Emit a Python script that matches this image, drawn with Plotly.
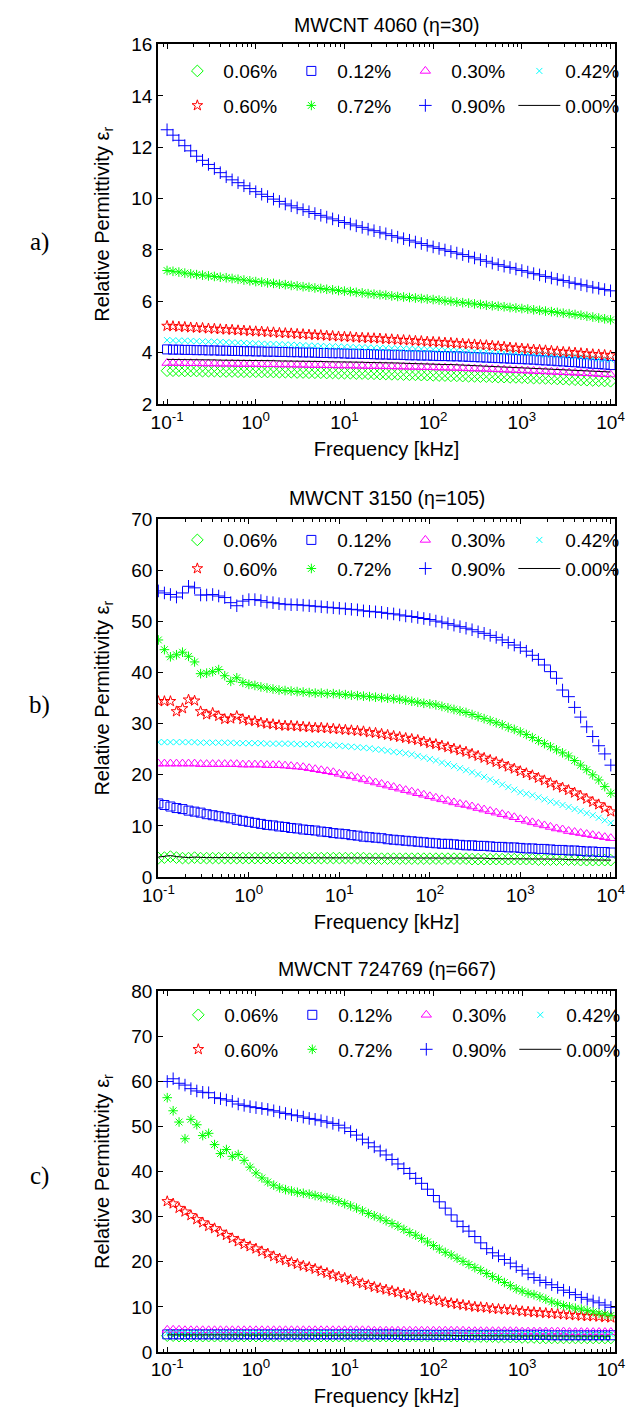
import plotly.graph_objects as go

# ---------------- data ----------------
freq_khz = [
    0.1, 0.1166, 0.1359, 0.1585, 0.1848, 0.2154, 0.2512, 0.2929, 0.3415, 0.3981, 0.4642, 0.5412, 0.631, 0.7356, 0.8577,
    1, 1.166, 1.359, 1.585, 1.848, 2.154, 2.512, 2.929, 3.415, 3.981, 4.642, 5.412, 6.31, 7.356, 8.577,
    10, 11.66, 13.59, 15.85, 18.48, 21.54, 25.12, 29.29, 34.15, 39.81, 46.42, 54.12, 63.1, 73.56, 85.77,
    100, 116.6, 135.9, 158.5, 184.8, 215.4, 251.2, 292.9, 341.5, 398.1, 464.2, 541.2, 631, 735.6, 857.7,
    1000, 1166, 1359, 1585, 1848, 2154, 2512, 2929, 3415, 3981, 4642, 5412, 6310, 7356, 8577, 10000,
]

series_labels = ["0.06%", "0.12%", "0.30%", "0.42%", "0.60%", "0.72%", "0.90%", "0.00%"]

# ---- panel a : MWCNT 4060 ----
a_006 = [3.30, 3.30, 3.30, 3.29, 3.29, 3.29, 3.28, 3.28, 3.28, 3.27, 3.27, 3.27, 3.26, 3.26, 3.26,
         3.26, 3.25, 3.25, 3.25, 3.24, 3.24, 3.24, 3.23, 3.23, 3.22, 3.22, 3.22, 3.21, 3.21, 3.20,
         3.20, 3.20, 3.19, 3.19, 3.18, 3.18, 3.17, 3.17, 3.16, 3.16, 3.15, 3.14, 3.14, 3.13, 3.13,
         3.12, 3.11, 3.11, 3.10, 3.10, 3.09, 3.08, 3.08, 3.07, 3.07, 3.06, 3.05, 3.05, 3.04, 3.04,
         3.03, 3.02, 3.01, 3.01, 3.00, 2.99, 2.98, 2.97, 2.96, 2.95, 2.94, 2.93, 2.92, 2.91, 2.90, 2.89]
a_012 = [4.13, 4.12, 4.12, 4.11, 4.11, 4.10, 4.10, 4.09, 4.09, 4.08, 4.08, 4.07, 4.07, 4.06, 4.06,
         4.05, 4.05, 4.04, 4.04, 4.03, 4.03, 4.02, 4.02, 4.01, 4.01, 4.00, 3.99, 3.99, 3.98, 3.98,
         3.97, 3.96, 3.96, 3.95, 3.95, 3.94, 3.93, 3.93, 3.92, 3.92, 3.91, 3.90, 3.90, 3.89, 3.89,
         3.88, 3.87, 3.87, 3.86, 3.86, 3.85, 3.84, 3.83, 3.82, 3.81, 3.80, 3.79, 3.78, 3.77, 3.76,
         3.75, 3.74, 3.73, 3.71, 3.70, 3.69, 3.67, 3.66, 3.64, 3.63, 3.61, 3.59, 3.57, 3.56, 3.54, 3.52]
a_030 = [3.60, 3.60, 3.60, 3.59, 3.59, 3.59, 3.58, 3.58, 3.58, 3.57, 3.57, 3.57, 3.56, 3.56, 3.56,
         3.56, 3.55, 3.55, 3.55, 3.54, 3.54, 3.54, 3.53, 3.53, 3.52, 3.52, 3.52, 3.51, 3.51, 3.50,
         3.50, 3.50, 3.49, 3.49, 3.48, 3.48, 3.48, 3.47, 3.47, 3.46, 3.46, 3.45, 3.45, 3.44, 3.44,
         3.43, 3.42, 3.42, 3.41, 3.41, 3.40, 3.39, 3.38, 3.38, 3.37, 3.36, 3.35, 3.34, 3.33, 3.32,
         3.31, 3.30, 3.29, 3.28, 3.27, 3.26, 3.25, 3.24, 3.23, 3.22, 3.21, 3.20, 3.19, 3.17, 3.16, 3.15]
a_042 = [4.49, 4.48, 4.47, 4.47, 4.46, 4.45, 4.44, 4.43, 4.43, 4.42, 4.41, 4.40, 4.39, 4.38, 4.37,
         4.36, 4.35, 4.34, 4.34, 4.33, 4.32, 4.31, 4.30, 4.29, 4.28, 4.27, 4.26, 4.25, 4.25, 4.24,
         4.23, 4.22, 4.21, 4.21, 4.20, 4.19, 4.18, 4.18, 4.17, 4.17, 4.16, 4.15, 4.14, 4.14, 4.13,
         4.12, 4.11, 4.10, 4.10, 4.09, 4.08, 4.07, 4.06, 4.06, 4.05, 4.04, 4.03, 4.02, 4.01, 4.00,
         3.99, 3.98, 3.96, 3.95, 3.93, 3.92, 3.90, 3.89, 3.87, 3.86, 3.84, 3.82, 3.80, 3.77, 3.75, 3.73]
a_060 = [5.04, 5.03, 5.01, 5.00, 4.98, 4.97, 4.96, 4.94, 4.93, 4.91, 4.90, 4.89, 4.87, 4.86, 4.84,
         4.83, 4.82, 4.80, 4.79, 4.77, 4.76, 4.75, 4.73, 4.72, 4.70, 4.69, 4.68, 4.66, 4.65, 4.63,
         4.62, 4.61, 4.59, 4.58, 4.57, 4.56, 4.55, 4.53, 4.52, 4.50, 4.49, 4.48, 4.46, 4.45, 4.43,
         4.42, 4.41, 4.39, 4.38, 4.36, 4.35, 4.33, 4.32, 4.30, 4.29, 4.27, 4.25, 4.23, 4.20, 4.18,
         4.16, 4.14, 4.12, 4.11, 4.09, 4.07, 4.05, 4.03, 4.02, 4.00, 3.98, 3.96, 3.94, 3.93, 3.91, 3.89]
a_072 = [7.20, 7.17, 7.14, 7.10, 7.07, 7.04, 7.02, 6.99, 6.97, 6.94, 6.92, 6.89, 6.86, 6.83, 6.80,
         6.77, 6.75, 6.72, 6.70, 6.67, 6.65, 6.62, 6.60, 6.57, 6.55, 6.52, 6.50, 6.47, 6.45, 6.42,
         6.40, 6.38, 6.35, 6.33, 6.30, 6.28, 6.26, 6.24, 6.21, 6.19, 6.17, 6.15, 6.13, 6.11, 6.09,
         6.07, 6.05, 6.02, 6.00, 5.97, 5.95, 5.93, 5.90, 5.88, 5.85, 5.83, 5.81, 5.79, 5.76, 5.74,
         5.72, 5.70, 5.67, 5.65, 5.62, 5.60, 5.57, 5.54, 5.52, 5.49, 5.46, 5.42, 5.39, 5.35, 5.32, 5.28]
a_090 = [12.68, 12.47, 12.27, 12.06, 11.86, 11.65, 11.49, 11.33, 11.17, 11.01, 10.85, 10.73, 10.62, 10.50, 10.39,
         10.27, 10.17, 10.08, 9.98, 9.89, 9.79, 9.72, 9.64, 9.57, 9.49, 9.42, 9.35, 9.28, 9.21, 9.14,
         9.07, 9.01, 8.94, 8.88, 8.81, 8.75, 8.69, 8.63, 8.56, 8.50, 8.44, 8.38, 8.31, 8.25, 8.18,
         8.12, 8.06, 8.00, 7.94, 7.88, 7.82, 7.75, 7.69, 7.62, 7.56, 7.49, 7.43, 7.37, 7.32, 7.26,
         7.20, 7.14, 7.08, 7.03, 6.97, 6.91, 6.86, 6.81, 6.75, 6.70, 6.65, 6.60, 6.55, 6.51, 6.46, 6.41]
a_000 = [3.74, 3.74, 3.73, 3.73, 3.73, 3.73, 3.72, 3.72, 3.72, 3.71, 3.71, 3.71, 3.70, 3.70, 3.70,
         3.70, 3.70, 3.69, 3.69, 3.68, 3.68, 3.68, 3.67, 3.67, 3.66, 3.66, 3.66, 3.65, 3.65, 3.64,
         3.64, 3.64, 3.63, 3.63, 3.62, 3.62, 3.61, 3.61, 3.60, 3.60, 3.59, 3.58, 3.58, 3.57, 3.57,
         3.56, 3.55, 3.54, 3.54, 3.53, 3.52, 3.51, 3.50, 3.50, 3.49, 3.48, 3.47, 3.46, 3.45, 3.44,
         3.43, 3.42, 3.41, 3.40, 3.39, 3.38, 3.37, 3.35, 3.34, 3.33, 3.32, 3.31, 3.29, 3.28, 3.26, 3.25]

# ---- panel b : MWCNT 3150 ----
b_006 = [3.7, 3.8, 4.0, 3.8, 3.7, 3.7, 3.8, 3.7, 3.7, 3.7, 3.7, 3.7, 3.7, 3.7, 3.7,
         3.7, 3.7, 3.7, 3.7, 3.7, 3.7, 3.7, 3.7, 3.7, 3.7, 3.7, 3.7, 3.7, 3.7, 3.7,
         3.7, 3.7, 3.7, 3.7, 3.7, 3.6, 3.6, 3.6, 3.6, 3.6, 3.6, 3.6, 3.6, 3.6, 3.6,
         3.6, 3.6, 3.6, 3.6, 3.6, 3.6, 3.6, 3.5, 3.5, 3.5, 3.5, 3.5, 3.5, 3.5, 3.5,
         3.5, 3.5, 3.5, 3.4, 3.4, 3.4, 3.4, 3.4, 3.4, 3.4, 3.3, 3.3, 3.3, 3.3, 3.3, 3.3]
b_012 = [14.4, 14.1, 13.8, 13.5, 13.3, 13.0, 12.8, 12.6, 12.3, 12.1, 11.9, 11.7, 11.5, 11.2, 11.0,
         10.8, 10.6, 10.4, 10.2, 10.1, 9.9, 9.8, 9.6, 9.5, 9.3, 9.2, 9.1, 8.9, 8.8, 8.6,
         8.5, 8.4, 8.2, 8.1, 7.9, 7.8, 7.7, 7.6, 7.4, 7.3, 7.2, 7.1, 7.0, 6.9, 6.8,
         6.7, 6.6, 6.5, 6.5, 6.4, 6.3, 6.2, 6.2, 6.1, 6.1, 6.0, 5.9, 5.9, 5.8, 5.8,
         5.7, 5.6, 5.6, 5.5, 5.5, 5.4, 5.3, 5.3, 5.2, 5.2, 5.1, 5.0, 5.0, 4.9, 4.9, 4.8]
b_030 = [22.2, 22.2, 22.2, 22.2, 22.2, 22.2, 22.2, 22.1, 22.1, 22.1, 22.1, 22.1, 22.1, 22.1, 22.0,
         22.0, 22.0, 22.0, 21.9, 21.9, 21.9, 21.8, 21.7, 21.6, 21.5, 21.3, 21.1, 20.9, 20.7, 20.5,
         20.2, 19.9, 19.7, 19.4, 19.1, 18.8, 18.5, 18.2, 17.9, 17.6, 17.3, 17.0, 16.7, 16.4, 16.1,
         15.8, 15.5, 15.2, 14.9, 14.6, 14.3, 14.1, 13.8, 13.5, 13.2, 12.9, 12.6, 12.3, 12.0, 11.7,
         11.3, 11.0, 10.7, 10.4, 10.1, 9.8, 9.5, 9.3, 9.0, 8.8, 8.6, 8.4, 8.2, 8.0, 7.8, 7.6]
b_042 = [26.4, 26.4, 26.4, 26.4, 26.4, 26.4, 26.4, 26.3, 26.3, 26.3, 26.3, 26.3, 26.3, 26.2, 26.2,
         26.2, 26.2, 26.2, 26.1, 26.1, 26.1, 26.1, 26.1, 26.0, 26.0, 26.0, 26.0, 25.9, 25.9, 25.8,
         25.7, 25.6, 25.5, 25.4, 25.3, 25.2, 25.0, 24.9, 24.7, 24.5, 24.4, 24.2, 24.0, 23.7, 23.4,
         23.1, 22.8, 22.4, 22.1, 21.7, 21.3, 20.9, 20.5, 20.1, 19.6, 19.1, 18.6, 18.1, 17.6, 17.1,
         16.6, 16.3, 16.0, 15.6, 15.2, 14.8, 14.5, 14.1, 13.7, 13.3, 12.9, 12.5, 12.1, 11.6, 11.1, 10.6]
b_060 = [34.4, 34.4, 34.4, 32.4, 33.0, 34.7, 34.5, 32.4, 31.8, 32.1, 31.5, 30.9, 31.0, 31.5, 30.9,
         30.6, 30.5, 30.2, 30.0, 29.9, 29.7, 29.6, 29.6, 29.5, 29.4, 29.3, 29.2, 29.2, 29.1, 29.0,
         28.9, 28.8, 28.7, 28.6, 28.5, 28.3, 28.2, 28.0, 27.8, 27.6, 27.4, 27.2, 27.0, 26.8, 26.5,
         26.2, 26.0, 25.7, 25.4, 25.1, 24.8, 24.5, 24.1, 23.7, 23.3, 22.9, 22.5, 22.1, 21.6, 21.2,
         20.7, 20.3, 19.9, 19.4, 18.9, 18.4, 17.9, 17.5, 17.0, 16.5, 15.9, 15.3, 14.7, 14.2, 13.5, 12.8]
b_072 = [46.4, 44.5, 43.1, 43.5, 44.0, 43.2, 42.1, 39.8, 39.9, 40.2, 40.6, 39.4, 38.3, 39.0, 38.1,
         37.7, 37.5, 37.2, 37.0, 36.8, 36.6, 36.5, 36.4, 36.3, 36.2, 36.1, 36.0, 36.0, 35.9, 35.9,
         35.8, 35.7, 35.6, 35.5, 35.4, 35.3, 35.2, 35.1, 35.0, 34.9, 34.8, 34.6, 34.4, 34.2, 34.0,
         33.9, 33.7, 33.4, 33.1, 32.8, 32.5, 32.2, 31.8, 31.4, 31.0, 30.6, 30.2, 29.8, 29.3, 28.9,
         28.4, 27.9, 27.3, 26.7, 26.1, 25.5, 24.9, 24.3, 23.7, 22.8, 21.9, 21.0, 20.0, 19.0, 17.7, 16.4]
b_090 = [56.0, 55.6, 55.3, 54.8, 55.6, 56.9, 56.6, 55.2, 55.2, 55.3, 55.0, 54.7, 53.7, 53.1, 54.0,
         54.3, 54.3, 54.1, 53.8, 53.7, 53.5, 53.4, 53.3, 53.3, 53.2, 53.1, 53.0, 52.9, 52.8, 52.7,
         52.6, 52.5, 52.4, 52.3, 52.1, 52.0, 51.9, 51.8, 51.6, 51.5, 51.3, 51.1, 51.0, 50.8, 50.6,
         50.4, 50.1, 49.9, 49.6, 49.3, 49.0, 48.7, 48.4, 48.0, 47.7, 47.3, 46.9, 46.4, 45.9, 45.4,
         44.9, 44.2, 43.4, 42.6, 41.5, 40.2, 38.9, 36.6, 35.3, 33.2, 31.3, 29.4, 27.5, 25.7, 24.1, 21.9]
b_000 = [3.9, 4.0, 4.2, 4.0, 3.9, 3.8, 3.9, 3.8, 3.8, 3.8, 3.8, 3.8, 3.8, 3.8, 3.8,
         3.8, 3.8, 3.8, 3.8, 3.8, 3.8, 3.8, 3.8, 3.8, 3.8, 3.8, 3.8, 3.8, 3.8, 3.8,
         3.8, 3.8, 3.8, 3.8, 3.8, 3.8, 3.8, 3.8, 3.7, 3.7, 3.7, 3.7, 3.7, 3.7, 3.7,
         3.7, 3.7, 3.7, 3.7, 3.7, 3.7, 3.7, 3.7, 3.7, 3.7, 3.6, 3.6, 3.6, 3.6, 3.6,
         3.6, 3.6, 3.6, 3.5, 3.5, 3.5, 3.5, 3.5, 3.4, 3.4, 3.4, 3.4, 3.4, 3.4, 3.3, 3.3]

# ---- panel c : MWCNT 724769 ----
c_006 = [3.6, 3.6, 3.5, 3.5, 3.5, 3.5, 3.5, 3.5, 3.5, 3.5, 3.5, 3.5, 3.5, 3.5, 3.5,
         3.5, 3.5, 3.5, 3.5, 3.5, 3.5, 3.5, 3.5, 3.5, 3.5, 3.5, 3.5, 3.5, 3.5, 3.5,
         3.5, 3.5, 3.5, 3.5, 3.5, 3.5, 3.5, 3.5, 3.5, 3.5, 3.5, 3.5, 3.5, 3.5, 3.5,
         3.5, 3.5, 3.5, 3.5, 3.5, 3.5, 3.4, 3.4, 3.4, 3.4, 3.4, 3.3, 3.3, 3.3, 3.3,
         3.2, 3.2, 3.2, 3.1, 3.1, 3.1, 3.1, 3.1, 3.1, 3.1, 3.1, 3.1, 3.1, 3.1, 3.1, 3.1]
c_012 = [3.9, 3.9, 3.9, 3.9, 3.9, 3.9, 3.9, 3.9, 3.9, 3.9, 3.9, 3.9, 3.9, 3.9, 3.9,
         3.9, 3.9, 3.9, 3.9, 3.9, 3.9, 3.9, 3.9, 3.9, 3.9, 3.9, 3.9, 3.9, 3.9, 3.9,
         3.9, 3.9, 3.9, 3.9, 3.9, 3.9, 3.9, 3.9, 3.9, 3.9, 3.8, 3.8, 3.8, 3.8, 3.8,
         3.8, 3.8, 3.8, 3.8, 3.8, 3.8, 3.8, 3.8, 3.8, 3.8, 3.8, 3.8, 3.8, 3.8, 3.8,
         3.8, 3.8, 3.8, 3.8, 3.8, 3.7, 3.7, 3.7, 3.7, 3.7, 3.7, 3.7, 3.7, 3.7, 3.7, 3.7]
c_030 = [4.9, 4.9, 4.9, 4.8, 4.8, 4.8, 4.8, 4.8, 4.8, 4.8, 4.8, 4.8, 4.8, 4.8, 4.8,
         4.8, 4.8, 4.8, 4.8, 4.8, 4.8, 4.8, 4.8, 4.8, 4.8, 4.8, 4.8, 4.8, 4.8, 4.8,
         4.8, 4.8, 4.8, 4.8, 4.8, 4.7, 4.7, 4.7, 4.7, 4.7, 4.7, 4.7, 4.7, 4.7, 4.7,
         4.7, 4.7, 4.7, 4.7, 4.7, 4.7, 4.6, 4.6, 4.6, 4.6, 4.6, 4.6, 4.6, 4.6, 4.6,
         4.5, 4.5, 4.5, 4.5, 4.5, 4.5, 4.5, 4.5, 4.4, 4.4, 4.4, 4.4, 4.4, 4.4, 4.4, 4.4]
c_042 = [4.2, 4.2, 4.2, 4.2, 4.2, 4.2, 4.2, 4.2, 4.2, 4.2, 4.2, 4.2, 4.2, 4.2, 4.2,
         4.2, 4.2, 4.2, 4.2, 4.2, 4.2, 4.2, 4.2, 4.2, 4.2, 4.2, 4.2, 4.2, 4.2, 4.2,
         4.2, 4.2, 4.2, 4.2, 4.2, 4.1, 4.1, 4.1, 4.1, 4.1, 4.1, 4.1, 4.1, 4.1, 4.1,
         4.1, 4.1, 4.1, 4.1, 4.1, 4.1, 4.1, 4.1, 4.1, 4.1, 4.0, 4.0, 4.0, 4.0, 4.0,
         4.0, 4.0, 4.0, 4.0, 4.0, 4.0, 4.0, 4.0, 3.9, 3.9, 3.9, 3.9, 3.9, 3.9, 3.9, 3.9]
c_060 = [33.4, 32.9, 31.9, 31.1, 30.3, 29.4, 28.7, 27.9, 27.4, 26.6, 25.9, 25.2, 24.5, 23.9, 23.4,
         22.9, 22.3, 21.8, 21.2, 20.7, 20.3, 19.9, 19.5, 19.1, 18.8, 18.4, 17.9, 17.5, 17.1, 16.7,
         16.4, 16.0, 15.6, 15.2, 14.8, 14.4, 14.1, 13.8, 13.5, 13.2, 12.9, 12.6, 12.3, 12.0, 11.8,
         11.5, 11.3, 11.0, 10.8, 10.6, 10.4, 10.2, 10.0, 9.9, 9.8, 9.6, 9.5, 9.4, 9.3, 9.2,
         9.0, 8.9, 8.8, 8.7, 8.6, 8.5, 8.4, 8.3, 8.2, 8.1, 8.0, 7.9, 7.9, 7.8, 7.7, 7.6]
c_072 = [56.4, 53.5, 51.0, 47.3, 51.6, 50.4, 48.0, 48.5, 46.0, 44.0, 44.9, 43.4, 43.8, 42.5, 41.0,
         39.7, 38.6, 37.7, 37.0, 36.4, 36.0, 35.7, 35.4, 35.2, 35.0, 34.7, 34.4, 34.2, 33.8, 33.4,
         32.9, 32.4, 31.9, 31.3, 30.7, 30.2, 29.7, 29.1, 28.5, 27.9, 27.2, 26.5, 25.9, 25.2, 24.4,
         23.6, 22.8, 22.1, 21.5, 20.8, 20.1, 19.4, 18.7, 18.1, 17.4, 16.7, 16.1, 15.4, 14.7, 14.0,
         13.5, 13.0, 12.7, 12.2, 11.7, 11.1, 10.7, 10.3, 10.0, 9.7, 9.5, 9.2, 8.9, 8.6, 8.4, 8.1]
c_090 = [60.0, 60.6, 59.6, 59.2, 58.4, 57.9, 57.6, 57.5, 56.4, 56.2, 55.9, 55.6, 55.0, 54.7, 54.4,
         54.2, 54.0, 53.8, 53.5, 53.2, 52.9, 52.6, 52.4, 52.1, 51.8, 51.6, 51.3, 51.0, 50.7, 50.3,
         49.7, 48.9, 48.1, 47.2, 46.4, 45.5, 44.6, 43.7, 42.7, 41.7, 40.7, 39.6, 38.5, 37.4, 36.1,
         34.7, 33.3, 31.9, 30.4, 29.0, 27.8, 26.8, 25.6, 24.2, 22.9, 22.0, 21.3, 20.5, 19.7, 18.9,
         18.1, 17.3, 16.5, 15.9, 15.4, 14.9, 14.3, 13.7, 13.2, 12.7, 12.1, 11.7, 11.3, 10.9, 10.4, 9.9]
c_000 = [3.8, 3.8, 3.8, 3.7, 3.7, 3.7, 3.7, 3.7, 3.7, 3.7, 3.7, 3.7, 3.7, 3.7, 3.7,
         3.7, 3.7, 3.7, 3.7, 3.7, 3.7, 3.7, 3.7, 3.7, 3.7, 3.7, 3.7, 3.7, 3.7, 3.7,
         3.7, 3.7, 3.7, 3.7, 3.7, 3.7, 3.7, 3.7, 3.7, 3.7, 3.7, 3.7, 3.7, 3.7, 3.7,
         3.7, 3.7, 3.7, 3.7, 3.6, 3.6, 3.6, 3.6, 3.6, 3.6, 3.6, 3.6, 3.6, 3.6, 3.6,
         3.6, 3.6, 3.6, 3.6, 3.6, 3.6, 3.5, 3.5, 3.5, 3.5, 3.5, 3.5, 3.5, 3.5, 3.5, 3.5]

panel_titles = ["MWCNT 4060 (\u03b7=30)", "MWCNT 3150 (\u03b7=105)", "MWCNT 724769 (\u03b7=667)"]
panel_letters = ["a)", "b)", "c)"]
x_tick_vals = [0.1, 1, 10, 100, 1000, 10000]
x_tick_text = ["10<sup>-1</sup>", "10<sup>0</sup>", "10<sup>1</sup>", "10<sup>2</sup>", "10<sup>3</sup>", "10<sup>4</sup>"]
y_ranges = [[2, 16], [0, 70], [0, 80]]
y_dticks = [2, 10, 10]

panels = [
    [a_006, a_012, a_030, a_042, a_060, a_072, a_090, a_000],
    [b_006, b_012, b_030, b_042, b_060, b_072, b_090, b_000],
    [c_006, c_012, c_030, c_042, c_060, c_072, c_090, c_000],
]
for p in panels:
    for s in p:
        assert len(s) == len(freq_khz), len(s)

# ---------------- styling ----------------
W, H = 633, 1425
FONT = "Liberation Sans, Arial, sans-serif"
styles = [
    dict(symbol="diamond-open", color="#00ff00", size=9),
    dict(symbol="square-open", color="#0000ff", size=9),
    dict(symbol="triangle-up-open", color="#ff00ff", size=9),
    dict(symbol="x-thin-open", color="#00ffff", size=6),
    dict(symbol="star-open", color="#ff0000", size=8),
    dict(symbol="asterisk-open", color="#00ff00", size=8),
    dict(symbol="cross-thin-open", color="#0000ff", size=9),
    None,
]

# pixel geometry (page coordinates)
x_left, x_right = 148, 625
panel_px = [(35, 400), (517, 880), (996, 1362)]          # top, bottom
x_ranges = [[-1.103, 4.054], [-1.005, 4.05], [-1.105, 4.05]]
title_y_px = [15, 495, 973]
letter_y_px = [235, 705, 1183]
legend_rows_px = [(62, 97), (538, 567), (1020, 1055)]
legend_x_px = [162, 162, 163]

def px_x(x):
    return x / W

def px_y(y):
    return 1 - y / H

minor_vals = [m * 10 ** e for e in range(-2, 4) for m in range(2, 10)]

fig = go.Figure()
annotations = []
layout_extra = {}

for pi in range(3):
    xa = "x" if pi == 0 else f"x{pi + 1}"
    ya = "y" if pi == 0 else f"y{pi + 1}"
    leg1 = "legend" if pi == 0 else f"legend{2 * pi + 1}"
    leg2 = f"legend{2 * pi + 2}"
    for si, (label, vals) in enumerate(zip(series_labels, panels[pi])):
        st = styles[si]
        legend_name = leg1 if si < 4 else leg2
        if st is None:
            fig.add_trace(go.Scatter(
                x=freq_khz, y=vals, mode="lines", name=label,
                line=dict(color="#000000", width=1),
                xaxis=xa, yaxis=ya, legend=legend_name))
        else:
            fig.add_trace(go.Scatter(
                x=freq_khz, y=vals, mode="markers", name=label,
                marker=dict(symbol=st["symbol"], size=st["size"], color=st["color"],
                            line=dict(color=st["color"], width=1)),
                xaxis=xa, yaxis=ya, legend=legend_name))

    top, bot = panel_px[pi]
    xkey = "xaxis" if pi == 0 else f"xaxis{pi + 1}"
    ykey = "yaxis" if pi == 0 else f"yaxis{pi + 1}"
    layout_extra[xkey] = dict(
        type="log", range=x_ranges[pi], domain=[px_x(x_left), px_x(x_right)], anchor=ya,
        tickmode="array", tickvals=x_tick_vals, ticktext=x_tick_text,
        ticks="inside", ticklen=5, tickwidth=1, tickcolor="black",
        ticklabeloverflow="allow",
        minor=dict(tickmode="array", tickvals=minor_vals, ticks="inside", ticklen=3,
                   tickwidth=1, tickcolor="black", showgrid=False),
        showline=True, linecolor="black", linewidth=1.5, mirror="allticks",
        showgrid=False, zeroline=False,
        tickfont=dict(family=FONT, size=19, color="black"),
        title=dict(text="Frequency [kHz]", font=dict(family=FONT, size=20, color="black"), standoff=10),
    )
    layout_extra[ykey] = dict(
        range=y_ranges[pi], dtick=y_dticks[pi], domain=[px_y(bot), px_y(top)], anchor=xa,
        ticks="inside", ticklen=5, tickwidth=1, tickcolor="black",
        showline=True, linecolor="black", linewidth=1.5, mirror="allticks",
        showgrid=False, zeroline=False,
        tickfont=dict(family=FONT, size=19, color="black"),
        title=dict(text="Relative Permittivity \u03b5<sub>r</sub>",
                   font=dict(family=FONT, size=20, color="black"), standoff=16),
    )
    r1, r2 = legend_rows_px[pi]
    for lk, ry in ((leg1, r1), (leg2, r2)):
        layout_extra[lk] = dict(
            orientation="h", x=px_x(legend_x_px[pi]), xanchor="left",
            y=px_y(ry), yanchor="middle", xref="paper", yref="paper",
            bgcolor="rgba(0,0,0,0)", borderwidth=0,
            itemwidth=42, entrywidth=57, entrywidthmode="pixels",
            font=dict(family=FONT, size=19, color="black"),
            tracegroupgap=0,
        )
    annotations.append(dict(
        text=panel_titles[pi], x=px_x((x_left + x_right) / 2), y=px_y(title_y_px[pi]),
        xref="paper", yref="paper", xanchor="center", yanchor="middle", showarrow=False,
        font=dict(family=FONT, size=19.5, color="black")))
    annotations.append(dict(
        text=panel_letters[pi], x=px_x(24), y=px_y(letter_y_px[pi]),
        xref="paper", yref="paper", xanchor="center", yanchor="middle", showarrow=False,
        font=dict(family="Liberation Serif, Times New Roman, serif", size=25, color="black")))

fig.update_layout(
    width=W, height=H,
    margin=dict(l=0, r=0, t=0, b=0),
    paper_bgcolor="white", plot_bgcolor="white",
    showlegend=True,
    annotations=annotations,
    **layout_extra,
)

fig.write_html("out.html")
